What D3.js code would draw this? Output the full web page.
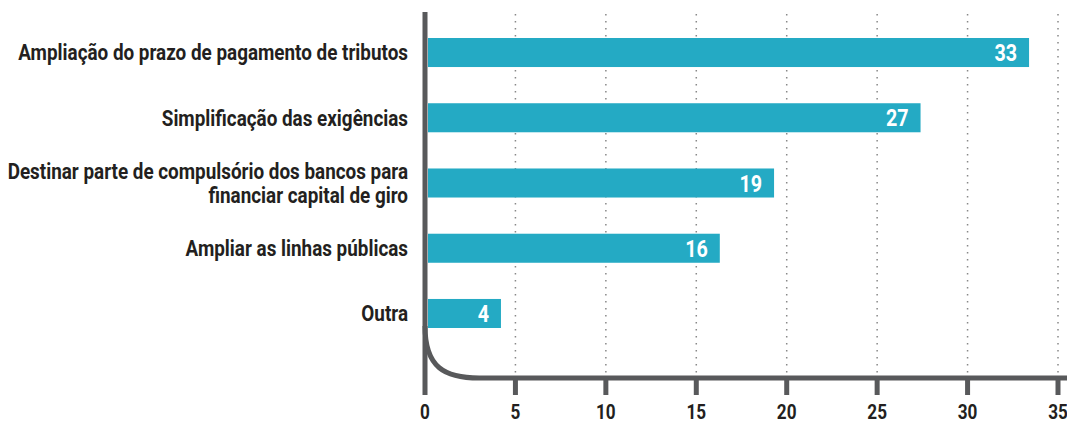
<!DOCTYPE html>
<html>
<head>
<meta charset="utf-8">
<script src="https://cdn.jsdelivr.net/npm/d3@7"></script>
<style>
	body { margin: 0; background: #fff; }
	svg { display: block; }
</style>
</head>
<body>
<div id="chart"></div>
<script>
{ // start block scope

	const categories = [
		["Ampliação do prazo de pagamento de tributos"],
		["Simplificação das exigências"],
		["Destinar parte de compulsório dos bancos para", "financiar capital de giro"],
		["Ampliar as linhas públicas"],
		["Outra"]
	];
	const values = [33.4, 27.4, 19.3, 16.3, 4.2];
	const ticks = [0, 5, 10, 15, 20, 25, 30, 35];

	const width = 1067,
		height = 423;
	const font = "Roboto, 'Open Sans', sans-serif";
	const axisColor = "#58595b";
	const ink = "#231f20";

	const svg = d3
		.select("#chart")
		.append("svg")
		.attr("width", width)
		.attr("height", height);

	const x = d3.scaleLinear().domain([0, 35]).range([425, 1058]);
	const y = d3
		.scaleBand()
		.domain(d3.range(categories.length))
		.range([38, 328])
		.paddingInner(0.555)
		.paddingOuter(0);

	// dotted grid
	svg
		.append("g")
		.selectAll("line")
		.data(ticks.slice(1))
		.join("line")
		.attr("x1", (d) => x(d))
		.attr("x2", (d) => x(d))
		.attr("y1", 14)
		.attr("y2", 378)
		.attr("stroke", "#888")
		.attr("stroke-width", 1.5)
		.attr("stroke-dasharray", "1.5,5.5");

	// bars
	svg
		.append("g")
		.selectAll("rect")
		.data(values)
		.join("rect")
		.attr("x", x(0) + 3)
		.attr("y", (d, i) => y(i))
		.attr("width", (d) => x(d) - x(0) - 3)
		.attr("height", y.bandwidth())
		.attr("fill", "#24aac4");

	// category labels (font squeezed horizontally to look condensed)
	const cat = svg
		.append("g")
		.selectAll("g")
		.data(categories)
		.join("g");
	const catText = cat
		.append("text")
		.attr("text-anchor", "end")
		.attr("fill", ink)
		.style("font", `bold 22px ${font}`);
	catText
		.selectAll("tspan")
		.data((d) => d)
		.join("tspan")
		.attr("x", 0)
		.attr("y", (d, i, n) => (i - (n.length - 1) / 2) * 24)
		.attr("dy", "0.36em")
		.text((d) => d);
	const k = 390 / catText.node().getComputedTextLength();
	cat.attr("transform", (d, i) => `translate(408, ${y(i) + y.bandwidth() / 2}) scale(${k}, 1)`);

	// value labels
	svg
		.append("g")
		.selectAll("text")
		.data(values)
		.join("text")
		.attr("transform", (d, i) => `translate(${x(d) - 12}, ${y(i) + y.bandwidth() / 2}) scale(${k}, 1)`)
		.attr("dy", "0.37em")
		.attr("text-anchor", "end")
		.attr("fill", "#fff")
		.style("font", `bold 23px ${font}`)
		.text((d) => d3.format(".0f")(d));

	// axes
	const axis = svg.append("g").attr("fill", "none").attr("stroke", axisColor).attr("stroke-width", 5);
	axis
		.append("line")
		.attr("x1", x(0))
		.attr("x2", x(0))
		.attr("y1", 12)
		.attr("y2", 395);
	axis
		.append("path")
		.attr("d", `M${x(0)},326 C${x(0)},368 ${x(0) + 20},378 ${x(3)},378 L${width},378`);
	axis
		.selectAll("line.tick")
		.data(ticks.slice(1))
		.join("line")
		.attr("class", "tick")
		.attr("x1", (d) => x(d))
		.attr("x2", (d) => x(d))
		.attr("y1", 378)
		.attr("y2", 395);

	svg
		.append("g")
		.selectAll("text")
		.data(ticks)
		.join("text")
		.attr("transform", (d) => `translate(${x(d)}, 419) scale(${k}, 1)`)
		.attr("text-anchor", "middle")
		.attr("fill", ink)
		.style("font", `bold 20px ${font}`)
		.text((d) => d);

} // end block scope
</script>
</body>
</html>
